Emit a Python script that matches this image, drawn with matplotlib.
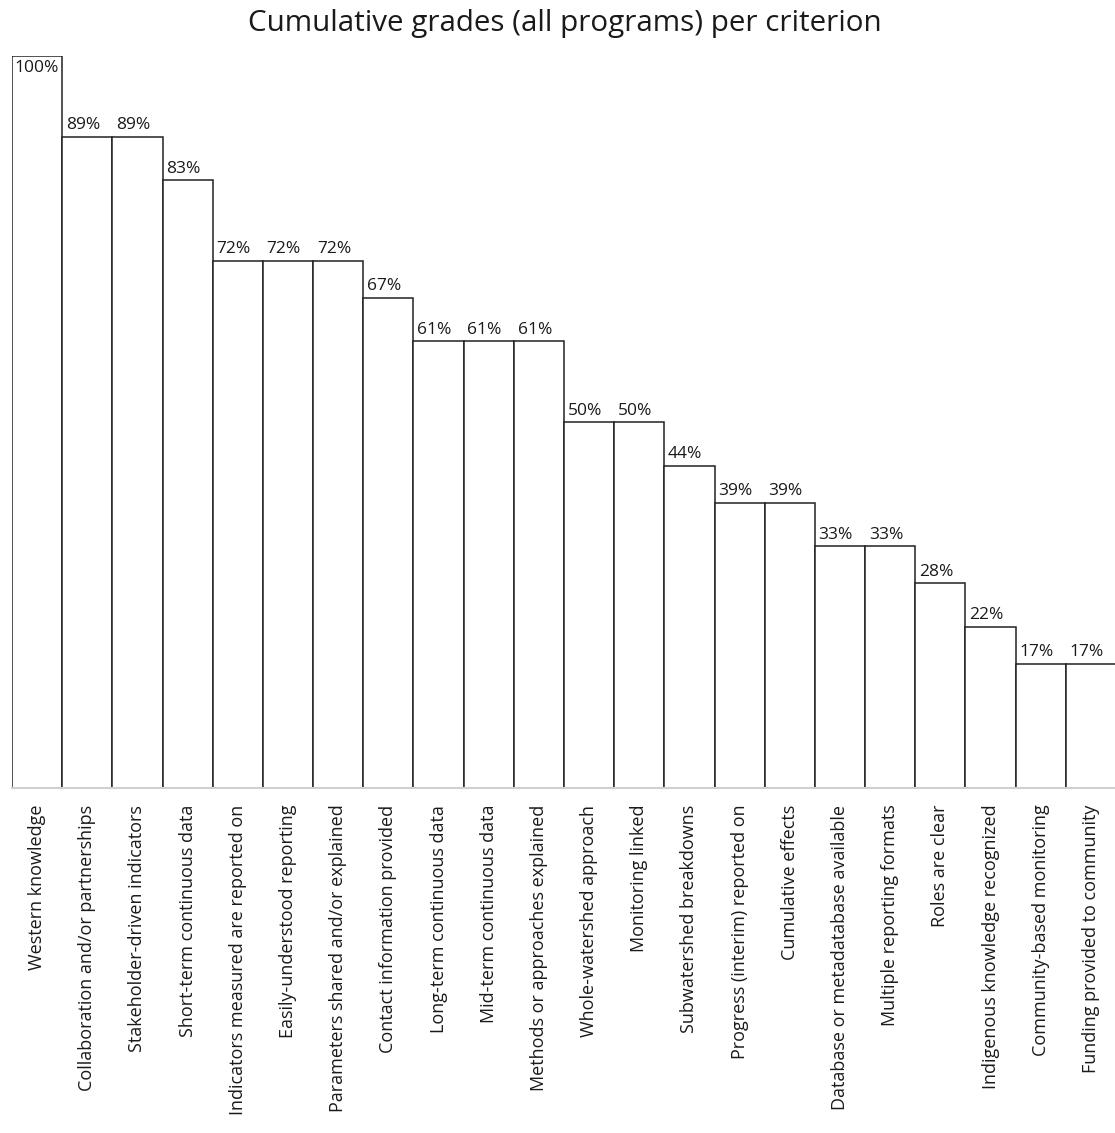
import matplotlib.pyplot as plt
import numpy as np

plt.rcParams['font.family'] = ['Open Sans', 'DejaVu Sans']

criteria = [
    'Western knowledge',
    'Collaboration and/or partnerships',
    'Stakeholder-driven indicators',
    'Short-term continuous data',
    'Indicators measured are reported on',
    'Easily-understood reporting',
    'Parameters shared and/or explained',
    'Contact information provided',
    'Long-term continuous data',
    'Mid-term continuous data',
    'Methods or approaches explained',
    'Whole-watershed approach',
    'Monitoring linked',
    'Subwatershed breakdowns',
    'Progress (interim) reported on',
    'Cumulative effects',
    'Database or metadatabase available',
    'Multiple reporting formats',
    'Roles are clear',
    'Indigenous knowledge recognized',
    'Community-based monitoring',
    'Funding provided to community',
]
percent = [100, 89, 89, 83, 72, 72, 72, 67, 61, 61, 61,
           50, 50, 44, 39, 39, 33, 33, 28, 22, 17, 17]

fig = plt.figure(figsize=(11.15, 11.33), dpi=100)
ax = fig.add_axes([12 / 1115, 345 / 1133, 1104 / 1115, 732 / 1133])

x = np.arange(len(criteria))
ax.bar(x, percent, width=1.0, color='white', edgecolor='#222222', linewidth=1.1)

# value labels above each bar (first one sits inside, like the original)
for xi, v in zip(x, percent):
    if v >= 98:
        ax.annotate(f'{v}%', (xi, v), xytext=(0, -3), textcoords='offset points',
                    ha='center', va='top', fontsize=12.5, color='#1a1a1a')
    else:
        ax.annotate(f'{v}%', (xi, v), xytext=(-3, 2.5), textcoords='offset points',
                    ha='center', va='bottom', fontsize=12.5, color='#1a1a1a')

ax.set_xlim(-0.5, len(criteria) - 0.5)
ax.set_ylim(0, 100)
ax.set_xticks(x)
ax.set_xticklabels(criteria, rotation=90, fontsize=13, color='#1a1a1a')
ax.tick_params(axis='x', length=0, pad=12)
ax.set_yticks([])

for side in ['top', 'right', 'left']:
    ax.spines[side].set_visible(False)
ax.spines['bottom'].set_color('#d0d0d0')
ax.spines['bottom'].set_linewidth(1.5)

fig.text(0.507, 1 - 24 / 1133, 'Cumulative grades (all programs) per criterion',
         ha='center', va='center', fontsize=21.3, color='#1a1a1a')

fig.savefig('out.png', dpi=100)
